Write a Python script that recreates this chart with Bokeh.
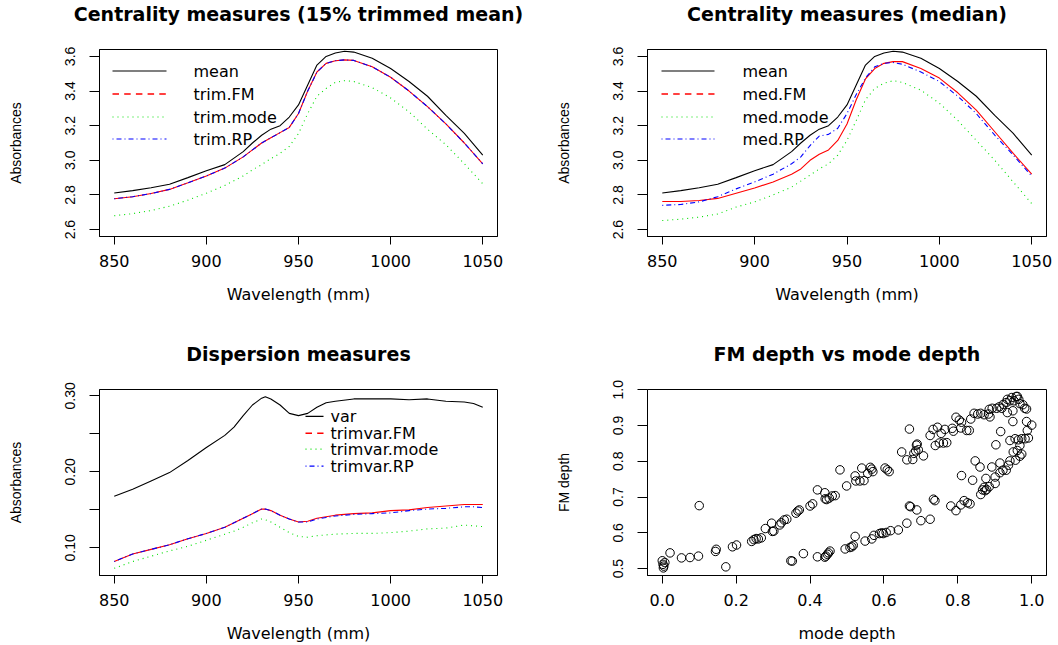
from bokeh.plotting import figure
from bokeh.models import Range1d, FixedTicker, ColumnDataSource, PrintfTickFormatter
from bokeh.core.properties import value
from bokeh.layouts import column, row
from bokeh.embed import file_html
from bokeh.resources import INLINE

# ---------------- data ----------------
wl = [850, 860, 870, 880, 890, 900, 910, 920, 925, 930, 935, 940, 945, 950, 955, 960,
      965, 970, 975, 980, 990, 1000, 1010, 1020, 1030, 1040, 1050]

mean_ = [2.811, 2.825, 2.842, 2.862, 2.900, 2.940, 2.975, 3.050, 3.100, 3.145, 3.180, 3.200,
         3.250, 3.320, 3.435, 3.550, 3.600, 3.620, 3.630, 3.625, 3.590, 3.530, 3.455, 3.370,
         3.260, 3.155, 3.030]
trim_fm = [2.778, 2.790, 2.808, 2.832, 2.870, 2.910, 2.955, 3.020, 3.060, 3.100, 3.130, 3.160,
           3.190, 3.270, 3.400, 3.510, 3.560, 3.575, 3.580, 3.577, 3.540, 3.480, 3.400, 3.310,
           3.210, 3.100, 2.980]
trim_mode = [2.680, 2.692, 2.710, 2.735, 2.770, 2.810, 2.855, 2.910, 2.945, 2.975, 3.010, 3.040,
             3.080, 3.155, 3.270, 3.370, 3.415, 3.450, 3.460, 3.455, 3.420, 3.360, 3.280, 3.180,
             3.090, 2.980, 2.865]
trim_rp = list(trim_fm)

med_fm = [2.762, 2.762, 2.768, 2.780, 2.810, 2.840, 2.875, 2.920, 2.950, 3.000, 3.035, 3.060,
          3.115, 3.210, 3.350, 3.470, 3.530, 3.560, 3.570, 3.570, 3.530, 3.475, 3.390, 3.290,
          3.165, 3.040, 2.920]
med_mode = [2.652, 2.660, 2.672, 2.690, 2.730, 2.760, 2.800, 2.845, 2.880, 2.915, 2.950, 2.980,
            3.030, 3.115, 3.230, 3.350, 3.415, 3.445, 3.460, 3.450, 3.405, 3.330, 3.230, 3.115,
            3.000, 2.875, 2.750]
med_rp = [2.740, 2.745, 2.760, 2.790, 2.835, 2.875, 2.920, 2.980, 3.020, 3.085, 3.140, 3.150,
          3.185, 3.270, 3.380, 3.475, 3.540, 3.560, 3.565, 3.555, 3.510, 3.455, 3.370, 3.270,
          3.145, 3.030, 2.910]

wl3 = [850, 860, 870, 880, 890, 900, 910, 915, 920, 925, 930, 932, 935, 940, 945, 950, 955,
       960, 965, 970, 980, 990, 1000, 1010, 1020, 1030, 1040, 1045, 1050]
var_ = [0.168, 0.177, 0.188, 0.199, 0.215, 0.232, 0.248, 0.259, 0.274, 0.288, 0.297, 0.299,
        0.296, 0.288, 0.277, 0.274, 0.277, 0.285, 0.291, 0.293, 0.296, 0.296, 0.296, 0.295,
        0.296, 0.293, 0.292, 0.290, 0.285]
trimvar_fm = [0.082, 0.092, 0.098, 0.104, 0.112, 0.119, 0.127, 0.133, 0.139, 0.145, 0.151, 0.151,
              0.149, 0.143, 0.138, 0.134, 0.135, 0.139, 0.141, 0.143, 0.145, 0.146, 0.149, 0.150,
              0.153, 0.155, 0.157, 0.157, 0.157]
trimvar_mode = [0.073, 0.082, 0.089, 0.096, 0.102, 0.110, 0.118, 0.122, 0.127, 0.133, 0.138, 0.137,
                0.134, 0.127, 0.120, 0.115, 0.114, 0.116, 0.117, 0.118, 0.119, 0.119, 0.120, 0.122,
                0.125, 0.126, 0.130, 0.129, 0.128]
trimvar_rp = [0.082, 0.092, 0.098, 0.104, 0.112, 0.119, 0.127, 0.133, 0.139, 0.145, 0.151, 0.151,
              0.149, 0.143, 0.138, 0.134, 0.134, 0.138, 0.140, 0.142, 0.144, 0.145, 0.146, 0.149,
              0.151, 0.152, 0.154, 0.154, 0.153]

mode_depth = [0.000, 0.002, 0.003, 0.004, 0.007, 0.021, 0.052, 0.075, 0.098, 0.100, 0.144, 0.146,
              0.172, 0.190, 0.201, 0.242, 0.248, 0.254, 0.260, 0.268, 0.279, 0.296, 0.298, 0.302,
              0.318, 0.322, 0.330, 0.337, 0.362, 0.367, 0.371, 0.400, 0.407, 0.420, 0.440, 0.441,
              0.445, 0.452, 0.460, 0.468, 0.481, 0.499, 0.522, 0.524, 0.535, 0.546, 0.540, 0.556,
              0.563, 0.567, 0.570, 0.603, 0.609, 0.614, 0.648, 0.662, 0.669, 0.678, 0.681, 0.686,
              0.688, 0.690, 0.693, 0.707,
              0.725, 0.733, 0.745, 0.739, 0.750, 0.761, 0.770, 0.755, 0.765, 0.785, 0.788, 0.795,
              0.804, 0.810, 0.808, 0.824, 0.831, 0.835, 0.844, 0.854, 0.862, 0.871, 0.883, 0.885,
              0.893, 0.887, 0.905, 0.912, 0.919, 0.923, 0.931, 0.934, 0.941, 0.946, 0.952, 0.958,
              0.961, 0.965, 0.968, 0.976, 0.981, 0.986, 0.949, 0.934,
              0.986, 1.000, 0.988, 0.982, 0.991, 0.973, 0.964, 0.955, 0.941, 0.949, 0.916, 0.903,
              0.968, 0.961, 0.950, 0.968, 0.973, 0.956, 0.941, 0.937, 0.931, 0.922, 0.914, 0.914,
              0.892, 0.901, 0.901, 0.876, 0.860, 0.847, 0.840, 0.810, 0.885, 0.878, 0.871, 0.867,
              0.862, 0.874, 0.833, 0.826, 0.817, 0.808, 0.795, 0.781, 0.738, 0.734, 0.725, 0.700,
              0.689, 0.669, 0.672, 0.662, 0.639, 0.618, 0.606, 0.598, 0.594, 0.588, 0.573, 0.567,
              0.549, 0.522, 0.517, 0.513, 0.508, 0.495, 0.454, 0.450, 0.447, 0.443, 0.440, 0.420,
              0.382, 0.352, 0.348]
fm_depth = [0.522, 0.512, 0.502, 0.507, 0.517, 0.544, 0.530, 0.531, 0.535, 0.676, 0.548, 0.554,
            0.505, 0.561, 0.566, 0.576, 0.581, 0.584, 0.583, 0.586, 0.612, 0.627, 0.604, 0.605,
            0.622, 0.628, 0.636, 0.638, 0.655, 0.661, 0.664, 0.675, 0.681, 0.720, 0.712, 0.695,
            0.693, 0.697, 0.703, 0.704, 0.776, 0.731, 0.759, 0.745, 0.745, 0.746, 0.781, 0.766,
            0.783, 0.778, 0.771, 0.781, 0.776, 0.771, 0.826, 0.804, 0.890, 0.805, 0.822, 0.829,
            0.845, 0.848, 0.832, 0.815,
            0.872, 0.889, 0.895, 0.844, 0.851, 0.851, 0.852, 0.878, 0.889, 0.892, 0.884, 0.923,
            0.915, 0.909, 0.893, 0.886, 0.886, 0.918, 0.934, 0.932, 0.934, 0.930, 0.932, 0.945,
            0.948, 0.924, 0.948, 0.952, 0.948, 0.959, 0.964, 0.973, 0.969, 0.978, 0.969, 0.981,
            0.981, 0.973, 0.961, 0.958, 0.948, 0.946, 0.941, 0.936,
            0.911, 0.901, 0.886, 0.863, 0.865, 0.863, 0.860, 0.863, 0.858, 0.911, 0.883, 0.846,
            0.844, 0.830, 0.826, 0.814, 0.820, 0.803, 0.801, 0.789, 0.775, 0.775, 0.795, 0.768,
            0.784, 0.756, 0.738, 0.752, 0.784, 0.801, 0.747, 0.760, 0.729, 0.721, 0.727, 0.720,
            0.707, 0.718, 0.681, 0.684, 0.690, 0.678, 0.662, 0.675, 0.690, 0.694, 0.638, 0.634,
            0.664, 0.675, 0.673, 0.627, 0.608, 0.606, 0.601, 0.598, 0.600, 0.598, 0.593, 0.583,
            0.577, 0.590, 0.565, 0.561, 0.559, 0.555, 0.549, 0.544, 0.540, 0.535, 0.532, 0.533,
            0.542, 0.521, 0.522]

# ---------------- styling ----------------
HFONT = "DejaVu Sans"
VFONT = "Liberation Sans"
BLACK, RED, GREEN, BLUE = "#000000", "#FF0000", "#00E000", "#0000FF"
DASH_ON, DASH_PERIOD = 6.5, 11.7   # legend sample pattern for the dashed (red) entries


class Panel:
    def __init__(self, w, h, left, right, top, bottom, title, xr, yr, xticks, yticks,
                 xlabel, ylabel, xfmt, yfmt, ylabel_over=None):
        self.xr, self.yr = xr, yr
        self.fw = w - left - right
        self.fh = h - top - bottom
        p = figure(width=w, height=h, output_backend="svg", toolbar_location=None,
                   x_range=Range1d(*xr), y_range=Range1d(*yr),
                   min_border_left=left, min_border_right=right,
                   min_border_top=top, min_border_bottom=bottom)
        # trailing blank line lifts the title away from the frame, as in R
        p.title.text = title + "\n"
        p.title.align = "center"
        p.title.vertical_align = "top"
        p.title.standoff = 2
        p.title.text_font = HFONT
        p.title.text_font_size = "19px"
        p.title.text_font_style = "bold"
        p.title.text_color = BLACK
        p.grid.visible = False
        p.outline_line_color = BLACK
        p.outline_line_width = 1
        p.outline_line_alpha = 1
        p.background_fill_color = "white"
        p.border_fill_color = "white"
        for ax in (p.xaxis[0], p.yaxis[0]):
            ax.axis_line_color = BLACK
            ax.major_tick_line_color = BLACK
            ax.major_tick_in = 0
            ax.minor_tick_line_color = None
            ax.major_label_text_color = BLACK
            ax.axis_label_text_color = BLACK
            ax.axis_label_text_font_style = "normal"
        xa = p.xaxis[0]
        xa.ticker = FixedTicker(ticks=xticks)
        xa.formatter = PrintfTickFormatter(format=xfmt)
        xa.major_tick_out = 8
        xa.major_label_standoff = 10
        xa.major_label_text_font = HFONT
        xa.major_label_text_font_size = "16px"
        xa.axis_label = xlabel
        xa.axis_label_text_font = HFONT
        xa.axis_label_text_font_size = "16px"
        xa.axis_label_standoff = 15
        ya = p.yaxis[0]
        ya.ticker = FixedTicker(ticks=yticks)
        ya.formatter = PrintfTickFormatter(format=yfmt)
        ya.major_tick_out = 10
        ya.major_label_orientation = "parallel"
        ya.major_label_standoff = 14
        ya.major_label_text_font = VFONT
        ya.major_label_text_font_size = "14px"
        ya.axis_label = ylabel
        ya.axis_label_text_font = VFONT
        ya.axis_label_text_font_size = "14px"
        ya.axis_label_standoff = 39
        if ylabel_over:
            ya.major_label_overrides = ylabel_over
        self.p = p

    # convert frame-pixel offsets (from the frame's top-left) into range values
    def fx(self, px):
        return self.xr[0] + px / self.fw * (self.xr[1] - self.xr[0])

    def fy(self, py):
        return self.yr[1] - py / self.fh * (self.yr[1] - self.yr[0])

    def lines(self, x, series):
        for name, vals, color, dash, leg_dash in series:
            self.p.line(x, vals, line_color=color, line_width=1.1, line_dash=dash)

    def legend(self, series, gx0, gw, tx, rows, font_size="16px"):
        # R-style legend without a box, placed by frame-pixel offsets
        for (name, vals, color, dash, leg_dash), ry in zip(series, rows):
            yy = self.fy(ry)
            if leg_dash == "dashed":
                starts = []
                s = 0.0
                while s < gw - 1:
                    starts.append(s)
                    s += DASH_PERIOD
                self.p.segment(x0=[self.fx(gx0 + a) for a in starts], y0=[yy] * len(starts),
                               x1=[self.fx(gx0 + min(a + DASH_ON, gw)) for a in starts],
                               y1=[yy] * len(starts), line_color=color, line_width=1.4)
            else:
                self.p.line([self.fx(gx0), self.fx(gx0 + gw)], [yy, yy], line_color=color,
                            line_width=1.2, line_dash=leg_dash)
            self.p.text([self.fx(tx)], [yy], text=[name], text_align="left",
                        text_baseline="middle", text_font=value(HFONT),
                        text_font_size=font_size, text_color=BLACK)


wl_ticks = [850, 900, 950, 1000, 1050]
abs_ticks = [2.6, 2.8, 3.0, 3.2, 3.4, 3.6]

# Panel 1
s1 = [("mean", mean_, BLACK, "solid", "solid"),
      ("trim.FM", trim_fm, RED, "solid", "dashed"),
      ("trim.mode", trim_mode, GREEN, "1 4", "1 4"),
      ("trim.RP", trim_rp, BLUE, "1 3 5 3", "1 3 5 3")]
P1 = Panel(548, 340, 99, 51, 49, 104, "Centrality measures (15% trimmed mean)",
           (842, 1058), (2.56, 3.64), wl_ticks, abs_ticks, "Wavelength (mm)",
           "Absorbances", "%d", "%.1f")
P1.lines(wl, s1)
P1.legend(s1, 13, 54, 94, [21.5, 44.5, 67.5, 89.5])

# Panel 2
s2 = [("mean", mean_, BLACK, "solid", "solid"),
      ("med.FM", med_fm, RED, "solid", "dashed"),
      ("med.mode", med_mode, GREEN, "1 4", "1 4"),
      ("med.RP", med_rp, BLUE, "1 3 5 3", "1 3 5 3")]
P2 = Panel(510, 340, 99, 12, 49, 104, "Centrality measures (median)",
           (842, 1058), (2.56, 3.64), wl_ticks, abs_ticks, "Wavelength (mm)",
           "Absorbances", "%d", "%.1f")
P2.lines(wl, s2)
P2.legend(s2, 14, 53, 95, [21.5, 44.5, 67.5, 89.5])

# Panel 3
s3 = [("var", var_, BLACK, "solid", "solid"),
      ("trimvar.FM", trimvar_fm, RED, "solid", "dashed"),
      ("trimvar.mode", trimvar_mode, GREEN, "1 4", "1 4"),
      ("trimvar.RP", trimvar_rp, BLUE, "1 3 5 3", "1 3 5 3")]
P3 = Panel(548, 305, 99, 51, 49, 69, "Dispersion measures",
           (842, 1058), (0.0636, 0.3084), wl_ticks, [0.10, 0.15, 0.20, 0.25, 0.30],
           "Wavelength (mm)", "Absorbances", "%d", "%.2f",
           ylabel_over={0.1: "0.10", 0.15: "", 0.2: "0.20", 0.25: "", 0.3: "0.30"})
P3.lines(wl3, s3)
P3.legend(s3, 206, 18, 231, [27, 44, 60, 77])

# Panel 4
P4 = Panel(510, 305, 99, 12, 49, 69, "FM depth vs mode depth",
           (-0.04, 1.04), (0.4808, 1.0005), [0.0, 0.2, 0.4, 0.6, 0.8, 1.0],
           [0.5, 0.6, 0.7, 0.8, 0.9, 1.0], "mode depth", "FM depth", "%.1f", "%.1f")
src = ColumnDataSource(dict(x=mode_depth, y=fm_depth))
P4.p.scatter("x", "y", source=src, size=8.5, fill_color=None, line_color=BLACK, line_width=1)

layout = column(row(P1.p, P2.p), row(P3.p, P4.p))
open("out.html", "w").write(file_html(layout, INLINE))
